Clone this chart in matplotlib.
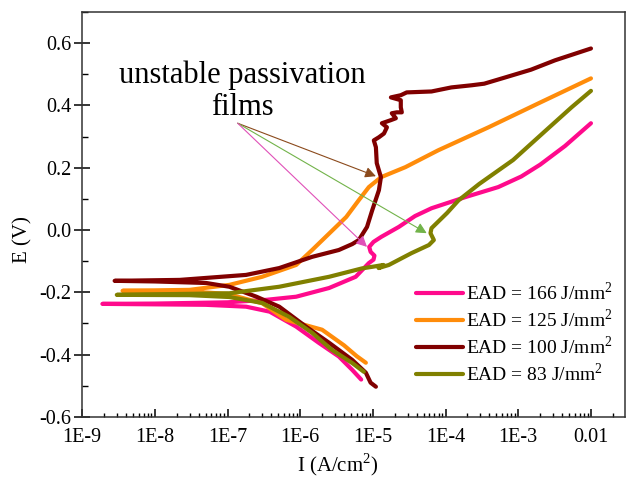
import matplotlib
matplotlib.use("Agg")
import matplotlib.pyplot as plt
import numpy as np

plt.rcParams['font.family'] = ['Liberation Serif', 'DejaVu Serif']
plt.rcParams['mathtext.fontset'] = 'custom'
plt.rcParams['mathtext.rm'] = 'Liberation Serif'
plt.rcParams['axes.unicode_minus'] = False

# EAD = 166 J/mm2 (cathodic end -> Ecorr -> anodic end)
i_166 = [6.9e-6, 5.2e-6, 3.4e-6, 1.8e-6, 8.8e-7, 3.8e-7, 1.8e-7, 5e-8, 1.9e-9,
         1e-8, 1e-7, 3.4e-7, 8.8e-7, 2.5e-6, 5.8e-6, 8.8e-6, 1.02e-5, 1.05e-5,
         9.3e-6, 8.9e-6, 1.02e-5, 1.3e-5, 2.27e-5, 3.8e-5, 6.4e-5, 1.88e-4, 5.3e-4,
         1.1e-3, 2e-3, 4.4e-3, 1e-2]
e_166 = [-0.48, -0.449, -0.406, -0.362, -0.31, -0.262, -0.246, -0.24, -0.237,
         -0.236, -0.232, -0.224, -0.214, -0.186, -0.15, -0.106, -0.095, -0.082,
         -0.07, -0.054, -0.038, -0.022, 0.01, 0.045, 0.07, 0.106, 0.138,
         0.172, 0.21, 0.27, 0.343]

# EAD = 125 J/mm2
i_125 = [8.0e-6, 6e-6, 4e-6, 2e-6, 6.4e-7, 3e-7, 1e-7, 3e-8, 3.6e-9,
         3e-8, 1.06e-7, 3e-7, 8.8e-7, 1.46e-6, 4.3e-6, 6.4e-6, 8.8e-6, 1.3e-5,
         2.8e-5, 7.9e-5, 3.9e-4, 1.9e-3, 1e-2]
e_125 = [-0.426, -0.405, -0.37, -0.32, -0.288, -0.235, -0.205, -0.197, -0.195,
         -0.192, -0.176, -0.15, -0.112, -0.064, 0.042, 0.096, 0.138, 0.17,
         0.202, 0.256, 0.33, 0.407, 0.487]

# EAD = 100 J/mm2
i_100 = [1.1e-5, 9.3e-6, 8.0e-6, 5.2e-6, 2.5e-6, 1.2e-6, 5.15e-7, 2.5e-7, 1.06e-7,
         5.1e-8, 1e-8, 2.8e-9,
         2.2e-8, 1.8e-7, 5.15e-7, 1.46e-6, 3.4e-6, 5.2e-6, 6.4e-6, 8.3e-6,
         9.8e-6, 1.21e-5, 1.29e-5, 1.13e-5, 1.10e-5, 1.03e-5, 1.21e-5, 1.42e-5,
         1.56e-5, 1.33e-5, 1.77e-5, 2.07e-5, 1.82e-5, 2.13e-5, 2.5e-5, 2.42e-5,
         2.42e-5, 1.77e-5, 2.42e-5, 2.92e-5, 6.4e-5, 1.2e-4, 2.3e-4, 3.4e-4, 6.6e-4,
         1.5e-3, 3.2e-3, 1e-2]
e_100 = [-0.503, -0.49, -0.458, -0.417, -0.362, -0.31, -0.246, -0.214, -0.182,
         -0.17, -0.165, -0.163,
         -0.160, -0.144, -0.122, -0.086, -0.064, -0.045, -0.032, 0.01,
         0.064, 0.128, 0.17, 0.215, 0.266, 0.288, 0.298, 0.31,
         0.33, 0.343, 0.353, 0.359, 0.375, 0.378, 0.378, 0.394,
         0.417, 0.426, 0.433, 0.442, 0.445, 0.458, 0.465, 0.47, 0.49,
         0.515, 0.545, 0.583]

# EAD = 83 J/mm2
i_83 = [7.5e-6, 5.2e-6, 2.74e-6, 1.46e-6, 7.1e-7, 3.0e-7, 1.06e-7, 3e-8, 3.0e-9,
        1.06e-7, 5.15e-7, 2.5e-6, 7.1e-6, 9.8e-6, 1.4e-5, 1.2e-5, 1.66e-5, 3.4e-5,
        5.9e-5, 6.9e-5, 6.2e-5, 6.4e-5, 1.05e-4, 1.5e-4, 2.9e-4, 8.5e-4,
        2.4e-3, 5.4e-3, 1e-2]
e_83 = [-0.455, -0.427, -0.385, -0.33, -0.279, -0.234, -0.215, -0.209, -0.208,
        -0.203, -0.182, -0.15, -0.123, -0.118, -0.112, -0.122, -0.112, -0.074,
        -0.048, -0.032, -0.01, 0.006, 0.055, 0.095, 0.148, 0.225,
        0.32, 0.394, 0.447]

labels = ['EAD = 166 J/mm$^2$', 'EAD = 125 J/mm$^2$',
          'EAD = 100 J/mm$^2$', 'EAD = 83 J/mm$^2$']
colors = ['#FF0A8C', '#FF8C0A', '#800000', '#808000']

x_ticks = [1e-9, 1e-8, 1e-7, 1e-6, 1e-5, 1e-4, 1e-3, 1e-2]
x_ticklabels = ['1E-9', '1E-8', '1E-7', '1E-6', '1E-5', '1E-4', '1E-3', '0.01']
y_ticks = [-0.6, -0.4, -0.2, 0.0, 0.2, 0.4, 0.6]
y_ticklabels = ['-0.6', '-0.4', '-0.2', '0.0', '0.2', '0.4', '0.6']

# arrows: tail and tips (I, E)
arrow_tail = (1.38e-7, 0.343)
arrow_tips = [(1.1e-5, 0.173), (5.5e-5, -0.01), (8.3e-6, -0.054)]
arrow_colors = ['#8B4A1C', '#72B34A', '#E050B8']

fig = plt.figure(figsize=(6.27, 4.82), dpi=100)
ax = fig.add_axes([0.131, 0.135, 0.866, 0.84])

for xs, ys, lab, c in zip([i_166, i_125, i_100, i_83], [e_166, e_125, e_100, e_83],
                          labels, colors):
    ax.plot(xs, ys, color=c, lw=3.0, label=lab, solid_capstyle='round',
            solid_joinstyle='round')

ax.set_xscale('log')
ax.set_xlim(1e-9, 10 ** -1.53)
ax.set_ylim(-0.6, 0.7)
ax.set_xticks(x_ticks, x_ticklabels)
ax.xaxis.set_minor_locator(matplotlib.ticker.LogLocator(base=10, subs=np.arange(2, 10)))
ax.xaxis.set_minor_formatter(matplotlib.ticker.NullFormatter())
ax.set_yticks(y_ticks, y_ticklabels)
ax.yaxis.set_minor_locator(matplotlib.ticker.MultipleLocator(0.1))

ax.tick_params(axis='x', which='major', direction='in', length=6, width=1.1,
               labelsize=14.5, pad=8)
ax.tick_params(axis='x', which='minor', direction='in', length=3, width=1.0)
ax.tick_params(axis='y', which='major', direction='inout', length=11, width=1.1,
               labelsize=14.5, pad=2)
ax.tick_params(axis='y', which='minor', direction='in', length=4, width=1.0)
for s in ax.spines.values():
    s.set_linewidth(1.1)
    s.set_color('#333333')

ax.set_xlabel('I (A/cm$^2$)', fontsize=15)
ax.set_ylabel('E (V)', fontsize=15)
ax.xaxis.set_label_coords(0.47, -0.118)
ax.yaxis.set_label_coords(-0.11, 0.437)
ax.xaxis.label.set_va('center')
ax.yaxis.label.set_va('center')

ax.text(0.295, 0.88, 'unstable passivation\nfilms', transform=ax.transAxes,
        ha='center', va='top', fontsize=22, linespacing=1.15)
for tip, c in zip(arrow_tips, arrow_colors):
    ax.annotate('', xy=tip, xytext=arrow_tail,
                arrowprops=dict(arrowstyle='-|>', color=c, lw=0.8,
                                mutation_scale=16, shrinkA=0, shrinkB=0))

ax.legend(loc='upper left', bbox_to_anchor=(0.615, 0.335), frameon=False,
          fontsize=14, handlelength=2.4, handletextpad=0.15, labelspacing=0.23,
          borderpad=0, borderaxespad=0)

plt.savefig('out.png', dpi=100)
